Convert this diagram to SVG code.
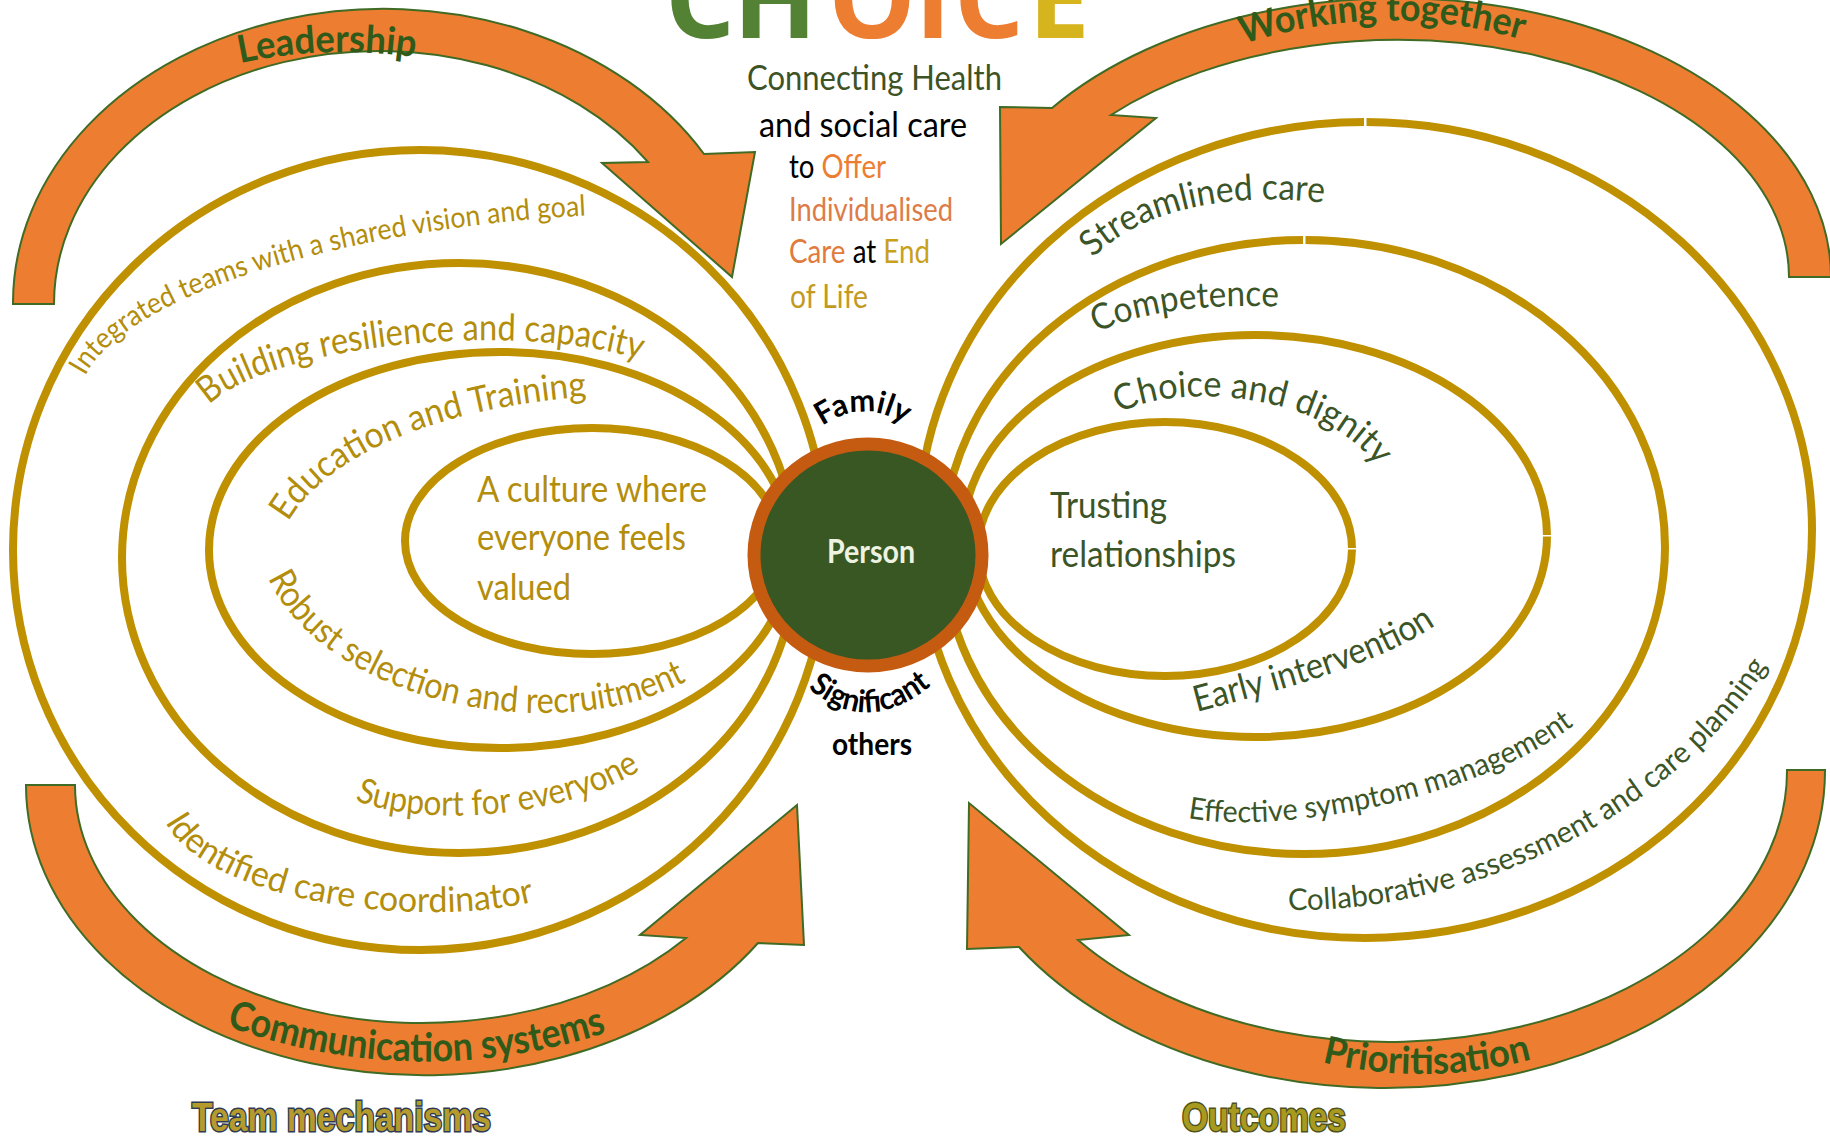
<svg xmlns="http://www.w3.org/2000/svg" width="1830" height="1136" viewBox="0 0 1830 1136">
<style>
.loop{fill:none;stroke:#BF9000;stroke-width:8}
.arrow{fill:#ED7D31;stroke:#3f6b25;stroke-width:2}
.f{font-family:Lato,'Liberation Sans',sans-serif}
.gold{fill:#B38D0C}
.grn{fill:#3b5528}
.atext{font-weight:bold;fill:#2f5a1a}
.ctext{font-weight:bold;fill:#000}
.gap{fill:#fff}
</style>
<defs>
<path id="p_int" d="M85,376 C132,286 380,224 598,215"/>
<path id="p_bld" d="M209,405 C270,345 520,318 648,362"/>
<path id="p_edu" d="M288,522 C330,450 450,405 596,396"/>
<path id="p_rob" d="M268,578 C327,705 565,753 696,676"/>
<path id="p_sup" d="M355,800 C420,828 575,820 652,762"/>
<path id="p_ide" d="M165,822 C210,905 430,930 540,900"/>
<path id="p_str" d="M1093,258 C1140,210 1230,190 1333,204"/>
<path id="p_com" d="M1097,333 C1140,310 1220,303 1282,307"/>
<path id="p_cho" d="M1120,414 C1160,385 1320,385 1378,468"/>
<path id="p_ear" d="M1197,712 C1280,690 1380,665 1440,622"/>
<path id="p_eff" d="M1188,818 C1280,835 1480,800 1578,722"/>
<path id="p_col" d="M1288,910 C1490,913 1690,800 1772,658"/>
<path id="p_lead" d="M240,63 Q330,44 420,58"/>
<path id="p_work" d="M1243,44 Q1388,-2 1530,42"/>
<path id="p_comm" d="M226,1026 Q420,1095 614,1030"/>
<path id="p_prio" d="M1322,1062 Q1428,1088 1536,1058"/>
<path id="p_fam" d="M822,426 Q866,396 910,428"/>
<path id="p_sig" d="M808,688 Q872,742 942,676"/>
</defs>

<g id="title" font-family="'Open Sans','Liberation Sans',sans-serif" font-weight="bold" font-size="110" text-anchor="middle">
<text x="700" y="38" fill="#548235">C</text>
<text x="775" y="38" fill="#548235">H</text>
<text x="872" y="38" fill="#ED7D31">O</text>
<text x="933" y="38" fill="#ED7D31">I</text>
<text x="989" y="38" fill="#ED7D31">C</text>
<text x="1059" y="38" fill="#D6B41E">E</text>
</g>

<g id="subtitle" class="f" font-size="35">
<text x="747" y="90" fill="#3d5325" textLength="255" lengthAdjust="spacingAndGlyphs">Connecting Health</text>
<text x="759" y="137" fill="#000" textLength="208" lengthAdjust="spacingAndGlyphs">and social care</text>
<text x="789" y="178" font-size="33" textLength="97" lengthAdjust="spacingAndGlyphs"><tspan fill="#000">to </tspan><tspan fill="#ED7D31">Offer</tspan></text>
<text x="789" y="221" font-size="33" fill="#DD7C47" textLength="164" lengthAdjust="spacingAndGlyphs">Individualised</text>
<text x="789" y="263" font-size="33" textLength="141" lengthAdjust="spacingAndGlyphs"><tspan fill="#E07B3C">Care</tspan><tspan fill="#000"> at </tspan><tspan fill="#C9A01C">End</tspan></text>
<text x="790" y="308" font-size="33" fill="#C39A1E" textLength="78" lengthAdjust="spacingAndGlyphs">of Life</text>
</g>

<g id="connectors">
<path id="arrow_leadership" class="arrow" d="M13,304 A371,294 0 0 1 704,154 L755,152 L732,277 L602,163 L648,162 A325,253 0 0 0 54,304 Z"/>
<path id="arrow_working" class="arrow" d="M1831,277 A434,279 0 0 0 1052,108 L1000,107 L1001,244 L1156,118 L1111,115 A392,237 0 0 1 1789,277 Z"/>
<path id="arrow_communication" class="arrow" d="M26,785 A398,290 0 0 0 758,943 L804,945 L797,805 L640,935 L686,938 A346,238 0 0 1 75,785 Z"/>
<path id="arrow_prioritisation" class="arrow" d="M1825,770 A440,317 0 0 1 1019,947 L967,949 L969,803 L1129,935 L1078,940 A398,271 0 0 0 1787,770 Z"/>
</g>

<g id="loops">
<ellipse id="loop_L1" class="loop" cx="420" cy="550" rx="407" ry="400"/>
<ellipse id="loop_L2" class="loop" cx="459" cy="558" rx="337" ry="295"/>
<ellipse id="loop_L3" class="loop" cx="500" cy="550" rx="291" ry="198"/>
<ellipse id="loop_L4" class="loop" cx="592" cy="541" rx="187" ry="113"/>
<ellipse id="loop_R1" class="loop" cx="1365" cy="530" rx="447" ry="408"/>
<ellipse id="loop_R2" class="loop" cx="1304" cy="547" rx="361" ry="307"/>
<ellipse id="loop_R3" class="loop" cx="1255" cy="536" rx="292" ry="201"/>
<ellipse id="loop_R4" class="loop" cx="1165" cy="549" rx="187" ry="127"/>
<rect class="gap" x="1364" y="112" width="2.5" height="20"/>
<rect class="gap" x="1303" y="230" width="2.5" height="20"/>
<rect class="gap" x="1540" y="535" width="14" height="1.5"/>
<rect class="gap" x="1345" y="548" width="14" height="1.5"/>
</g>

<g id="person">
<ellipse cx="868" cy="555" rx="114" ry="111" fill="#385723" stroke="#C55A11" stroke-width="13"/>
<text class="f" x="871" y="563" font-size="32" font-weight="bold" fill="#eef2e0" text-anchor="middle" textLength="88" lengthAdjust="spacingAndGlyphs">Person</text>
</g>

<g id="family" class="f ctext" font-size="31">
<text><textPath href="#p_fam" textLength="88" lengthAdjust="spacingAndGlyphs">Family</textPath></text>
</g>
<g id="significant-others" class="f ctext" font-size="31">
<text><textPath href="#p_sig" textLength="136" lengthAdjust="spacingAndGlyphs">Significant</textPath></text>
<text x="872" y="755" text-anchor="middle" textLength="80" lengthAdjust="spacingAndGlyphs">others</text>
</g>

<g id="team-labels" class="f gold">
<text font-size="29"><textPath href="#p_int" textLength="540" lengthAdjust="spacingAndGlyphs">Integrated teams with a shared vision and goal</textPath></text>
<text font-size="37"><textPath href="#p_bld" textLength="445" lengthAdjust="spacingAndGlyphs">Building resilience and capacity</textPath></text>
<text font-size="36"><textPath href="#p_edu" textLength="335" lengthAdjust="spacingAndGlyphs">Education and Training</textPath></text>
<text font-size="36"><textPath href="#p_rob" textLength="470" lengthAdjust="spacingAndGlyphs">Robust selection and recruitment</textPath></text>
<text font-size="35"><textPath href="#p_sup" textLength="295" lengthAdjust="spacingAndGlyphs">Support for everyone</textPath></text>
<text font-size="35"><textPath href="#p_ide" textLength="395" lengthAdjust="spacingAndGlyphs">Identified care coordinator</textPath></text>
<g font-size="36">
<text x="477" y="502" textLength="230" lengthAdjust="spacingAndGlyphs">A culture where</text>
<text x="477" y="550" textLength="209" lengthAdjust="spacingAndGlyphs">everyone feels</text>
<text x="477" y="600" textLength="94" lengthAdjust="spacingAndGlyphs">valued</text>
</g>
</g>

<g id="outcome-labels" class="f grn">
<text font-size="36"><textPath href="#p_str" textLength="245" lengthAdjust="spacingAndGlyphs">Streamlined care</textPath></text>
<text font-size="36"><textPath href="#p_com" textLength="185" lengthAdjust="spacingAndGlyphs">Competence</textPath></text>
<text font-size="36"><textPath href="#p_cho" textLength="280" lengthAdjust="spacingAndGlyphs">Choice and dignity</textPath></text>
<text font-size="36"><textPath href="#p_ear" textLength="255" lengthAdjust="spacingAndGlyphs">Early intervention</textPath></text>
<text font-size="30"><textPath href="#p_eff" textLength="405" lengthAdjust="spacingAndGlyphs">Effective symptom management</textPath></text>
<text font-size="30"><textPath href="#p_col" textLength="560" lengthAdjust="spacingAndGlyphs">Collaborative assessment and care planning</textPath></text>
<g font-size="36">
<text x="1050" y="518" textLength="117" lengthAdjust="spacingAndGlyphs">Trusting</text>
<text x="1050" y="567" textLength="186" lengthAdjust="spacingAndGlyphs">relationships</text>
</g>
</g>

<g id="arrow-labels" class="f atext">
<text font-size="38"><textPath href="#p_lead" textLength="176" lengthAdjust="spacingAndGlyphs">Leadership</textPath></text>
<text font-size="38"><textPath href="#p_work" textLength="283" lengthAdjust="spacingAndGlyphs">Working together</textPath></text>
<text font-size="40"><textPath href="#p_comm" textLength="388" lengthAdjust="spacingAndGlyphs">Communication systems</textPath></text>
<text font-size="38"><textPath href="#p_prio" textLength="212" lengthAdjust="spacingAndGlyphs">Prioritisation</textPath></text>
</g>

<g id="footer" font-family="'Liberation Sans',sans-serif" font-weight="bold" font-size="40">
<text x="192" y="1131" fill="#B59A2C" stroke="#2f3b55" stroke-width="3" paint-order="stroke" textLength="299" lengthAdjust="spacingAndGlyphs">Team mechanisms</text>
<text x="1182" y="1131" fill="#A89A1E" stroke="#4d5220" stroke-width="3" paint-order="stroke" textLength="164" lengthAdjust="spacingAndGlyphs">Outcomes</text>
</g>
</svg>
